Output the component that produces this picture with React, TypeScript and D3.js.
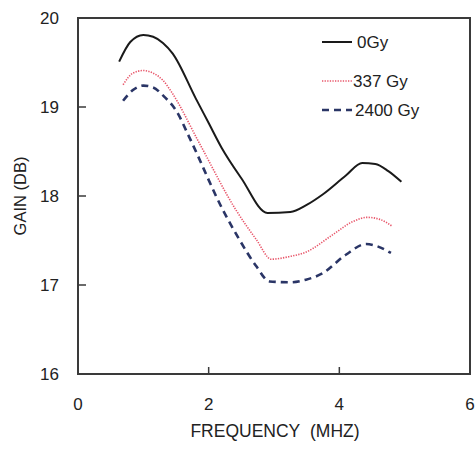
import React, { useEffect } from "react";
import * as d3 from "d3";

const freq0 = [0.63, 0.8, 1.0, 1.15, 1.3, 1.45, 1.8, 2.0, 2.2, 2.5, 2.9, 3.25, 3.5, 3.75, 4.1, 4.35, 4.55, 4.75, 4.95];
const gain0 = [19.51, 19.73, 19.81, 19.79, 19.72, 19.6, 19.1, 18.82, 18.54, 18.2, 17.81, 17.82, 17.9, 18.02, 18.23, 18.37, 18.36, 18.28, 18.16];

const freq337 = [0.69, 0.84, 1.0, 1.15, 1.3, 1.43, 1.86, 2.42, 2.73, 2.96, 3.24, 3.49, 3.89, 4.2, 4.43, 4.61, 4.81];
const gain337 = [19.25, 19.38, 19.41, 19.38, 19.3, 19.17, 18.59, 17.84, 17.51, 17.29, 17.32, 17.37, 17.56, 17.71, 17.76, 17.74, 17.66];

const freq2400 = [0.69, 0.84, 1.0, 1.15, 1.3, 1.51, 1.71, 2.22, 2.47, 2.73, 2.93, 3.24, 3.49, 3.74, 4.1, 4.41, 4.56, 4.79];
const gain2400 = [19.07, 19.19, 19.24, 19.22, 19.13, 18.95, 18.65, 17.84, 17.51, 17.21, 17.04, 17.03, 17.06, 17.13, 17.34, 17.46, 17.44, 17.36];

const seriesNames = ["0Gy", "337 Gy", "2400 Gy"];
const xTicks = [0, 2, 4, 6];
const yTicks = [16, 17, 18, 19, 20];

const W = 475;
const H = 449;
const L = 78, R = 470, T = 18, B = 374;

export default function App() {
  useEffect(() => {
    document.body.style.margin = "0";
  }, []);

  const x = d3.scaleLinear().domain([0, 6]).range([L, R]);
  const y = d3.scaleLinear().domain([16, 20]).range([B, T]);
  const line = d3
    .line<[number, number]>()
    .x((d) => x(d[0]))
    .y((d) => y(d[1]))
    .curve(d3.curveMonotoneX);

  const zip = (a: number[], b: number[]) => a.map((v, i) => [v, b[i]] as [number, number]);

  const series = [
    { name: seriesNames[0], data: zip(freq0, gain0), stroke: "#1a1a1a", width: 2, dash: undefined as string | undefined },
    { name: seriesNames[1], data: zip(freq337, gain337), stroke: "#e8566a", width: 1.6, dash: "1.3,1.3" },
    { name: seriesNames[2], data: zip(freq2400, gain2400), stroke: "#2a3566", width: 2.6, dash: "7,5" },
  ];

  const font = "Arial, 'Liberation Sans', sans-serif";
  const legendY = [42, 81, 110];
  const legendTextX = [357, 353, 355];

  return (
    <svg width={W} height={H} style={{ display: "block", background: "#fff" }} fontFamily={font}>
      <rect x={0} y={0} width={W} height={H} fill="#fff" />
      <rect x={L} y={T} width={R - L} height={B - T} fill="none" stroke="#3a3a3a" strokeWidth={2} />
      {yTicks.map((t) => (
        <g key={"y" + t}>
          {t > 16 && t < 20 && <line x1={L} x2={L + 8} y1={y(t)} y2={y(t)} stroke="#3a3a3a" strokeWidth={1.5} />}
          <text x={59} y={y(t)} dy="0.36em" textAnchor="end" fontSize={17} fill="#222">
            {t}
          </text>
        </g>
      ))}
      {xTicks.map((t) => (
        <g key={"x" + t}>
          {t > 0 && t < 6 && <line x1={x(t)} x2={x(t)} y1={B} y2={B - 7} stroke="#3a3a3a" strokeWidth={1.5} />}
          <text x={x(t)} y={410} textAnchor="middle" fontSize={17} fill="#222">
            {t}
          </text>
        </g>
      ))}
      <text x={(L + R) / 2 + 1} y={437} textAnchor="middle" fontSize={17.5} fill="#222">
        FREQUENCY{"\u00a0\u00a0"}(MHZ)
      </text>
      <text transform={`translate(26,196) rotate(-90)`} textAnchor="middle" fontSize={16.5} fill="#222">
        GAIN (DB)
      </text>
      {series.map((s) => (
        <path key={s.name} d={line(s.data) || ""} fill="none" stroke={s.stroke} strokeWidth={s.width} strokeDasharray={s.dash} />
      ))}
      {series.map((s, i) => (
        <g key={"lg" + i}>
          <line x1={322} x2={352} y1={legendY[i]} y2={legendY[i]} stroke={s.stroke} strokeWidth={s.width} strokeDasharray={s.dash} />
          <text x={legendTextX[i]} y={legendY[i]} dy="0.36em" fontSize={17} fill="#222">
            {s.name}
          </text>
        </g>
      ))}
    </svg>
  );
}
